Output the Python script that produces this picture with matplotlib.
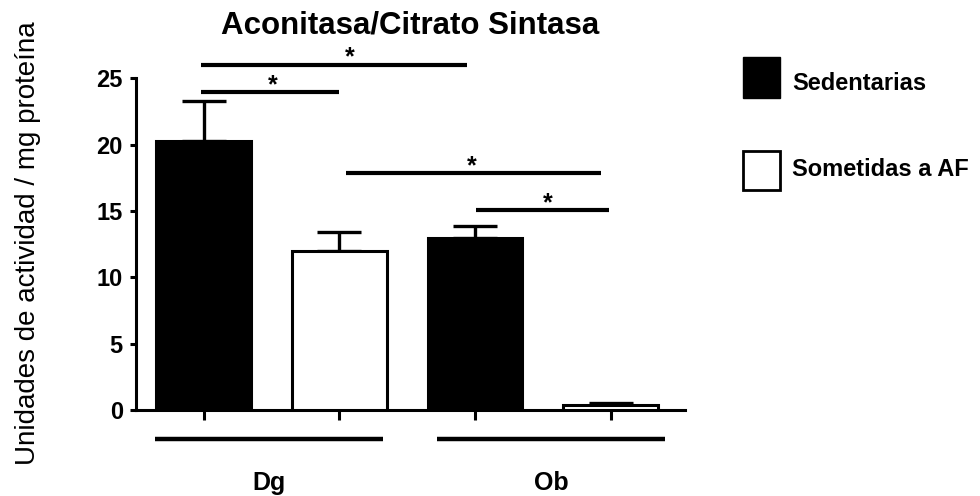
import matplotlib
matplotlib.use("Agg")
import matplotlib.pyplot as plt
from matplotlib.patches import Rectangle

plt.rcParams['font.family'] = ['Liberation Sans', 'DejaVu Sans']

# datos: Dg sedentarias, Dg sometidas, Ob sedentarias, Ob sometidas
groups = ['Dg', 'Ob']
series = ['Sedentarias', 'Sometidas a AF']
means = [20.3, 12.0, 12.95, 0.4]
sems = [3.0, 1.4, 0.95, 0.15]
fills = ['black', 'white', 'black', 'white']

# comparaciones significativas (*)
sig_x1 = [-0.02, -0.02, 1.05, 2.01]
sig_x2 = [1.94, 1.0, 2.93, 2.99]
sig_y = [26.0, 23.95, 17.85, 15.05]
sig_star_x = [1.08, 0.51, 1.975, 2.54]

# lineas de grupo bajo el eje
group_x1 = [-0.36, 1.72]
group_x2 = [1.32, 3.40]

fig = plt.figure(figsize=(9.8, 4.96), dpi=100)
ax = fig.add_axes([0.1388, 0.1734, 0.5603, 0.6687])

x = list(range(len(means)))
ax.bar(x, means, width=0.7, color=fills, edgecolor='black', linewidth=2.2, zorder=3)
ax.errorbar(x, means, yerr=[[0] * len(sems), sems], fmt='none', ecolor='black',
            elinewidth=2.4, capsize=16, capthick=2.4, zorder=2)

ax.set_xlim(-0.5, 3.55)
ax.set_ylim(0, 25)
ax.set_yticks([0, 5, 10, 15, 20, 25])
ax.set_xticks(x)
ax.set_xticklabels([])
for s in ['top', 'right']:
    ax.spines[s].set_visible(False)
for s in ['left', 'bottom']:
    ax.spines[s].set_linewidth(2.2)
ax.tick_params(axis='y', length=4.5, width=2.2, pad=5, labelsize=17)
ax.tick_params(axis='x', length=7, width=2.2)
for lab in ax.get_yticklabels():
    lab.set_fontweight('bold')

for a, b, y, sx in zip(sig_x1, sig_x2, sig_y, sig_star_x):
    ax.plot([a, b], [y, y], color='black', lw=3, clip_on=False, solid_capstyle='butt')
    ax.text(sx, y + 0.55, '*', ha='center', va='center', fontsize=18,
            fontweight='bold', clip_on=False)

for a, b, g in zip(group_x1, group_x2, groups):
    ax.plot([a, b], [-2.2, -2.2], color='black', lw=3.2, clip_on=False, solid_capstyle='butt')
    ax.text((a + b) / 2, -5.5, g, ha='center', va='center', fontsize=18,
            fontweight='bold', clip_on=False)

# leyenda manual
fig.add_artist(Rectangle((743 / 980, 1 - 98 / 496), 37 / 980, 41 / 496,
                         transform=fig.transFigure, facecolor='black',
                         edgecolor='black', lw=1))
fig.add_artist(Rectangle((743 / 980, 1 - 190 / 496), 37 / 980, 39 / 496,
                         transform=fig.transFigure, facecolor='white',
                         edgecolor='black', lw=2))
fig.text(792 / 980, 1 - 83 / 496, series[0], ha='left', va='center',
         fontsize=17, fontweight='bold')
fig.text(792 / 980, 1 - 170 / 496, series[1], ha='left', va='center',
         fontsize=17, fontweight='bold')

fig.text(410 / 980, 1 - 26 / 496, 'Aconitasa/Citrato Sintasa', ha='center',
         va='center', fontsize=22.5, fontweight='bold')
fig.text(28 / 980, 1 - 243 / 496, 'Unidades de actividad / mg proteína',
         rotation=90, ha='center', va='center', fontsize=20)

fig.savefig('out.png', dpi=100)
